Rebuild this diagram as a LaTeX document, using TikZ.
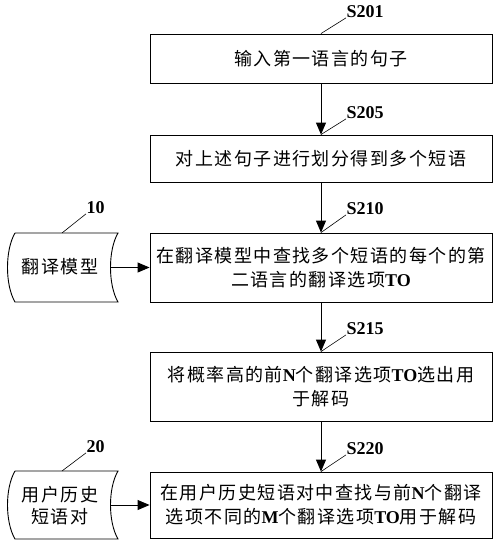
\documentclass[tikz,border=0pt]{standalone}
\usepackage{fontspec}
\setmainfont{Noto Sans CJK SC}[LetterSpace=8]
\newfontfamily\tnrfont{Liberation Serif}
\usetikzlibrary{arrows.meta}
\newcommand\latb[1]{{\tnrfont\bfseries #1}}
\tikzset{
  stepbox/.style={draw, line width=0.9pt, minimum width=342pt, inner sep=0pt, align=center, font=\fontsize{18}{24}\selectfont},
  flow/.style={-{Triangle[length=12pt,width=10pt]}, line width=0.9pt},
  tag/.style={font=\fontsize{18}{18}\selectfont\tnrfont\bfseries, inner sep=0.5pt, anchor=base west},
  lead/.style={line width=0.6pt},
  datashape/.style={draw, line width=0.9pt},
  datatext/.style={align=center, inner sep=0pt, font=\fontsize{18}{22}\selectfont}
}
\begin{document}
\begin{tikzpicture}[x=1pt,y=-1pt]
\useasboundingbox (0,0) rectangle (500,542);
% flow boxes
\node[stepbox, minimum height=49pt] (b1) at (321,58.5) {输入第一语言的句子};
\node[stepbox, minimum height=47pt] (b2) at (321,158.5) {对上述句子进行划分得到多个短语};
\node[stepbox, minimum height=69pt] (b3) at (321,267.5) {在翻译模型中查找多个短语的每个的第\\二语言的翻译选项\latb{TO}};
\node[stepbox, minimum height=69pt] (b4) at (321,386.5) {将概率高的前\latb{N}个翻译选项\latb{TO}选出用\\于解码};
\node[stepbox, minimum height=66pt] (b5) at (321,505) {在用户历史短语对中查找与前\latb{N}个翻译\\选项不同的\latb{M}个翻译选项\latb{TO}用于解码};
% step labels
\node[tag] (s201) at (346,17) {S201};
\node[tag] (s205) at (346,118) {S205};
\node[tag] (s210) at (346,214) {S210};
\node[tag] (s215) at (346,334) {S215};
\node[tag] (s220) at (346,454) {S220};
\draw[lead] (b1.north) -- (s201.south west);
\draw[lead] (b2.north) -- (s205.south west);
\draw[lead] (b3.north) -- (s210.south west);
\draw[lead] (b4.north) -- (s215.south west);
\draw[lead] (b5.north) -- (s220.south west);
% flow arrows
\draw[flow] (b1) -- (b2);
\draw[flow] (b2) -- (b3);
\draw[flow] (b3) -- (b4);
\draw[flow] (b4) -- (b5);
% data shape 1
\draw[datashape] (15,233) -- (118,233) .. controls (108,250) and (108,285) .. (118,302) -- (15,302) .. controls (5,285) and (5,250) .. (15,233);
\node[datatext] (d1) at (60,267) {翻译模型};
\coordinate (d1r) at (110.5,267.5);
\coordinate (d1t) at (62,233);
\node[tag] (t10) at (86,213) {10};
\draw[lead] (d1t) -- (t10.south west);
\draw[flow] (d1r) -- (b3.west |- d1r);
% data shape 2
\draw[datashape] (15,471) -- (118,471) .. controls (108,488) and (108,522) .. (118,539) -- (15,539) .. controls (5,522) and (5,488) .. (15,471);
\node[datatext] (d2) at (60,506) {用户历史\\短语对};
\coordinate (d2r) at (110.5,505);
\coordinate (d2t) at (62,471);
\node[tag] (t20) at (86,452) {20};
\draw[lead] (d2t) -- (t20.south west);
\draw[flow] (d2r) -- (b5.west |- d2r);
\end{tikzpicture}
\end{document}
